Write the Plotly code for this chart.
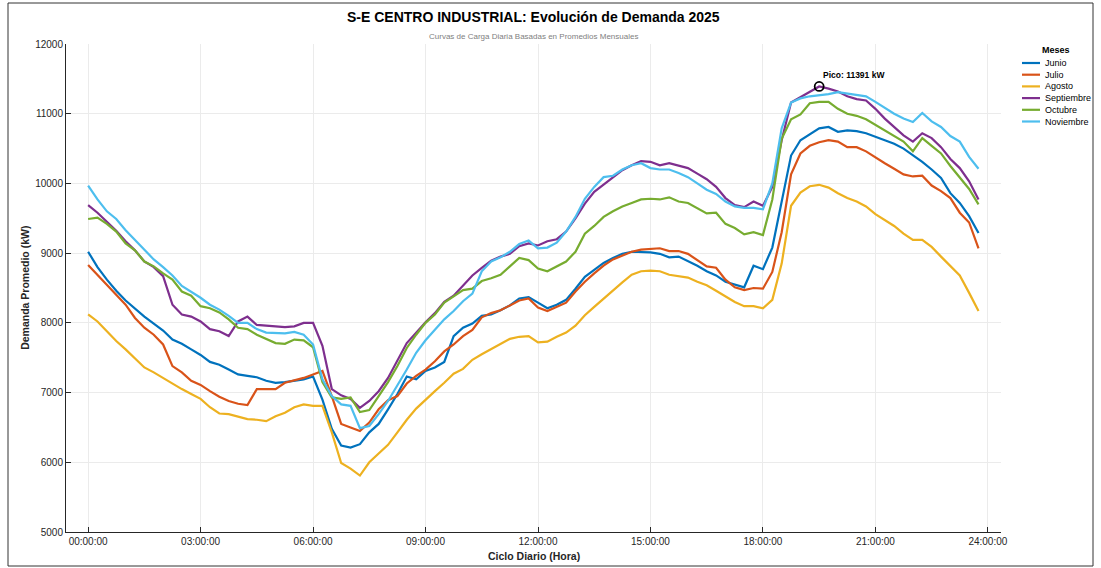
import plotly.graph_objects as go

# 15-minute time slots of the daily cycle
times = [f"{h:02d}:{m:02d}" for h in range(24) for m in (0, 15, 30, 45)]
hours = [int(t[:2]) + int(t[3:]) / 60 for t in times]

tick_hours = [0, 3, 6, 9, 12, 15, 18, 21, 24]
tick_labels = ["00:00:00", "03:00:00", "06:00:00", "09:00:00", "12:00:00",
               "15:00:00", "18:00:00", "21:00:00", "24:00:00"]
y_ticks = [5000, 6000, 7000, 8000, 9000, 10000, 11000, 12000]

months = ["Junio", "Julio", "Agosto", "Septiembre", "Octubre", "Noviembre"]

junio = [9020, 8800, 8620, 8460, 8320, 8200, 8090, 7990, 7890, 7760, 7700, 7620,
         7540, 7440, 7400, 7330, 7260, 7240, 7220, 7170, 7140, 7150, 7170, 7190,
         7230, 6900, 6480, 6240, 6210, 6260, 6430, 6550, 6760, 6980, 7230, 7190,
         7310, 7360, 7440, 7810, 7930, 7990, 8100, 8120, 8180, 8250, 8350, 8370,
         8290, 8210, 8260, 8330, 8490, 8660, 8760, 8860, 8930, 8990, 9020, 9020,
         9010, 8990, 8940, 8950, 8890, 8820, 8740, 8680, 8590, 8550, 8510, 8820,
         8770, 9080, 9750, 10400, 10620, 10710, 10790, 10810, 10740, 10760, 10750, 10720,
         10670, 10620, 10570, 10500, 10410, 10310, 10200, 10080, 9860, 9720, 9530, 9290]

julio = [8830, 8690, 8550, 8400, 8260, 8070, 7930, 7830, 7690, 7380, 7290, 7170,
         7110, 7020, 6940, 6880, 6840, 6820, 7050, 7050, 7050, 7140, 7170, 7210,
         7260, 7310, 6950, 6550, 6500, 6450, 6570, 6760, 6890, 6950, 7130, 7240,
         7330, 7450, 7590, 7690, 7810, 7900, 8080, 8140, 8180, 8250, 8320, 8350,
         8220, 8170, 8230, 8290, 8450, 8590, 8710, 8820, 8910, 8970, 9020, 9050,
         9060, 9070, 9030, 9030, 8990, 8900, 8810, 8790, 8620, 8510, 8470, 8500,
         8490, 8730, 9300, 10130, 10430, 10540, 10590, 10620, 10600, 10520, 10520, 10460,
         10370, 10290, 10210, 10130, 10100, 10110, 9970, 9890, 9790, 9580, 9440, 9070]

agosto = [8120, 8020, 7880, 7740, 7620, 7490, 7360, 7290, 7210, 7120, 7050, 6980,
          6910, 6790, 6700, 6690, 6660, 6620, 6610, 6590, 6660, 6710, 6790, 6830,
          6810, 6810, 6430, 5990, 5910, 5810, 6000, 6130, 6250, 6430, 6610, 6770,
          6900, 7020, 7140, 7270, 7340, 7470, 7550, 7620, 7690, 7770, 7800, 7810,
          7720, 7730, 7800, 7860, 7960, 8110, 8230, 8350, 8460, 8580, 8690, 8740,
          8750, 8740, 8690, 8670, 8650, 8590, 8540, 8460, 8380, 8300, 8240, 8240,
          8210, 8330, 8850, 9680, 9870, 9960, 9980, 9940, 9860, 9790, 9740, 9670,
          9560, 9470, 9390, 9280, 9190, 9190, 9090, 8950, 8820, 8680, 8430, 8170]

septiembre = [9690, 9580, 9450, 9320, 9170, 9040, 8880, 8800, 8670, 8260, 8120, 8090,
              8020, 7910, 7880, 7810, 8020, 8090, 7970, 7960, 7940, 7940, 7950, 8000,
              8000, 7670, 7050, 6960, 6910, 6780, 6880, 7020, 7210, 7450, 7710, 7860,
              8010, 8140, 8300, 8390, 8530, 8680, 8790, 8890, 8950, 8990, 9100, 9140,
              9110, 9170, 9200, 9310, 9500, 9710, 9880, 9980, 10090, 10190, 10260, 10320,
              10310, 10260, 10290, 10250, 10220, 10140, 10060, 9950, 9790, 9690, 9660, 9740,
              9680, 9950, 10620, 11160, 11240, 11310, 11391, 11360, 11320, 11250, 11210, 11190,
              11070, 10930, 10810, 10690, 10600, 10720, 10650, 10520, 10350, 10220, 10030, 9770]

octubre = [9490, 9510, 9420, 9310, 9140, 9040, 8880, 8810, 8710, 8620, 8450, 8390,
           8240, 8210, 8150, 8050, 7930, 7910, 7830, 7770, 7710, 7700, 7760, 7750,
           7650, 7150, 6930, 6910, 6930, 6720, 6750, 6950, 7150, 7380, 7640, 7830,
           8000, 8120, 8290, 8380, 8470, 8490, 8600, 8640, 8690, 8810, 8930, 8900,
           8780, 8740, 8810, 8880, 9020, 9280, 9390, 9520, 9600, 9670, 9720, 9770,
           9780, 9770, 9800, 9740, 9720, 9650, 9570, 9580, 9420, 9360, 9270, 9300,
           9260, 9770, 10640, 10920, 10990, 11150, 11170, 11170, 11070, 11000, 10970, 10920,
           10840, 10750, 10670, 10600, 10460, 10650, 10540, 10430, 10250, 10090, 9920, 9700]

noviembre = [9970, 9770, 9600, 9490, 9330, 9190, 9060, 8910, 8800, 8680, 8530, 8450,
             8360, 8260, 8190, 8100, 8000, 8000, 7910, 7860, 7850, 7850, 7870, 7830,
             7690, 7190, 6950, 6830, 6810, 6490, 6520, 6690, 6880, 7100, 7330, 7570,
             7750, 7900, 8050, 8170, 8310, 8420, 8740, 8880, 8940, 9020, 9130, 9180,
             9070, 9080, 9150, 9310, 9520, 9780, 9950, 10090, 10110, 10200, 10260, 10290,
             10220, 10200, 10200, 10150, 10090, 10000, 9910, 9850, 9740, 9670, 9650, 9650,
             9630, 10000, 10790, 11160, 11220, 11250, 11260, 11280, 11310, 11290, 11270, 11250,
             11170, 11080, 11000, 10930, 10880, 11010, 10890, 10810, 10680, 10600, 10380, 10210]

colors = ["#0072BD", "#D95319", "#EDB120", "#7E2F8E", "#77AC30", "#4DBEEE"]
series = [junio, julio, agosto, septiembre, octubre, noviembre]

FONT = "Liberation Sans, Arial, sans-serif"
INK = "#262626"

fig = go.Figure()
for name, vals, col in zip(months, series, colors):
    fig.add_trace(go.Scatter(x=hours, y=vals, mode="lines", name=name,
                             line=dict(color=col, width=2.2), showlegend=False))

# overall peak across all months
peak_val, peak_idx, peak_month = max(
    (v, i, m) for m, vals in zip(months, series) for i, v in enumerate(vals))
peak_x = hours[peak_idx]
fig.add_trace(go.Scatter(x=[peak_x], y=[peak_val], mode="markers", showlegend=False,
                         marker=dict(symbol="circle-open", size=9, color="black",
                                     line=dict(width=1.8, color="black"))))

annotations = [
    dict(x=peak_x, y=peak_val, xref="x", yref="y", text=f"<b>Pico: {peak_val} kW</b>",
         showarrow=False, xanchor="left", yanchor="bottom", xshift=2, yshift=4,
         font=dict(family=FONT, size=8.5, color="black")),
    dict(x=0.5, y=1.056, xref="paper", yref="paper",
         text="<b>S-E CENTRO INDUSTRIAL: Evolución de Demanda 2025</b>",
         showarrow=False, xanchor="center", yanchor="middle",
         font=dict(family=FONT, size=14, color="black")),
    dict(x=0.5, y=1.016, xref="paper", yref="paper",
         text="Curvas de Carga Diaria Basadas en Promedios Mensuales",
         showarrow=False, xanchor="center", yanchor="middle",
         font=dict(family=FONT, size=8, color="#808080")),
    dict(x=0.5, y=-0.049, xref="paper", yref="paper", text="<b>Ciclo Diario (Hora)</b>",
         showarrow=False, xanchor="center", yanchor="middle",
         font=dict(family=FONT, size=10.5, color=INK)),
    dict(x=-0.044, y=0.5, xref="paper", yref="paper", text="<b>Demanda Promedio (kW)</b>",
         showarrow=False, xanchor="center", yanchor="middle", textangle=-90,
         font=dict(family=FONT, size=10.5, color=INK)),
]

shapes = []
# legend block on the right
leg_x0, leg_x1, leg_tx = 1022, 1040, 1043
pw, ph, ml, mb = 935, 488, 66, 36
def px_x(px):
    return (px - ml) / pw
def px_y(py):
    return (568 - mb - py) / ph

annotations.append(dict(x=px_x(1056), y=px_y(50), xref="paper", yref="paper",
                        text="<b>Meses</b>", showarrow=False, xanchor="center",
                        yanchor="middle", font=dict(family=FONT, size=9, color="black")))
for k, (name, col) in enumerate(zip(months, colors)):
    yy = px_y(63 + k * 11.7)
    shapes.append(dict(type="line", xref="paper", yref="paper",
                       x0=px_x(leg_x0), x1=px_x(leg_x1), y0=yy, y1=yy,
                       line=dict(color=col, width=2.2)))
    annotations.append(dict(x=px_x(leg_tx), y=yy, xref="paper", yref="paper", text=name,
                            showarrow=False, xanchor="left", yanchor="middle",
                            font=dict(family=FONT, size=9, color="black")))

# figure frame
shapes.append(dict(type="rect", xref="paper", yref="paper",
                   x0=px_x(8), x1=px_x(1093), y0=px_y(3), y1=px_y(566),
                   line=dict(color="#333333", width=1), fillcolor="rgba(0,0,0,0)",
                   layer="below"))

axis_common = dict(showgrid=True, gridcolor="#ebebeb", gridwidth=1, zeroline=False,
                   showline=True, linecolor=INK, linewidth=1, ticks="inside",
                   ticklen=5, tickcolor=INK, tickwidth=1,
                   tickfont=dict(family=FONT, size=10, color=INK))

fig.update_layout(
    width=1101, height=568,
    margin=dict(l=ml, r=1101 - ml - pw, t=44, b=mb),
    paper_bgcolor="white", plot_bgcolor="white",
    xaxis=dict(range=[-0.59, 24.35], tickvals=tick_hours, ticktext=tick_labels, **axis_common),
    yaxis=dict(range=[5000, 12000], tickvals=y_ticks,
               ticktext=[str(v) for v in y_ticks], **axis_common),
    annotations=annotations, shapes=shapes,
)

fig.write_html("out.html")
